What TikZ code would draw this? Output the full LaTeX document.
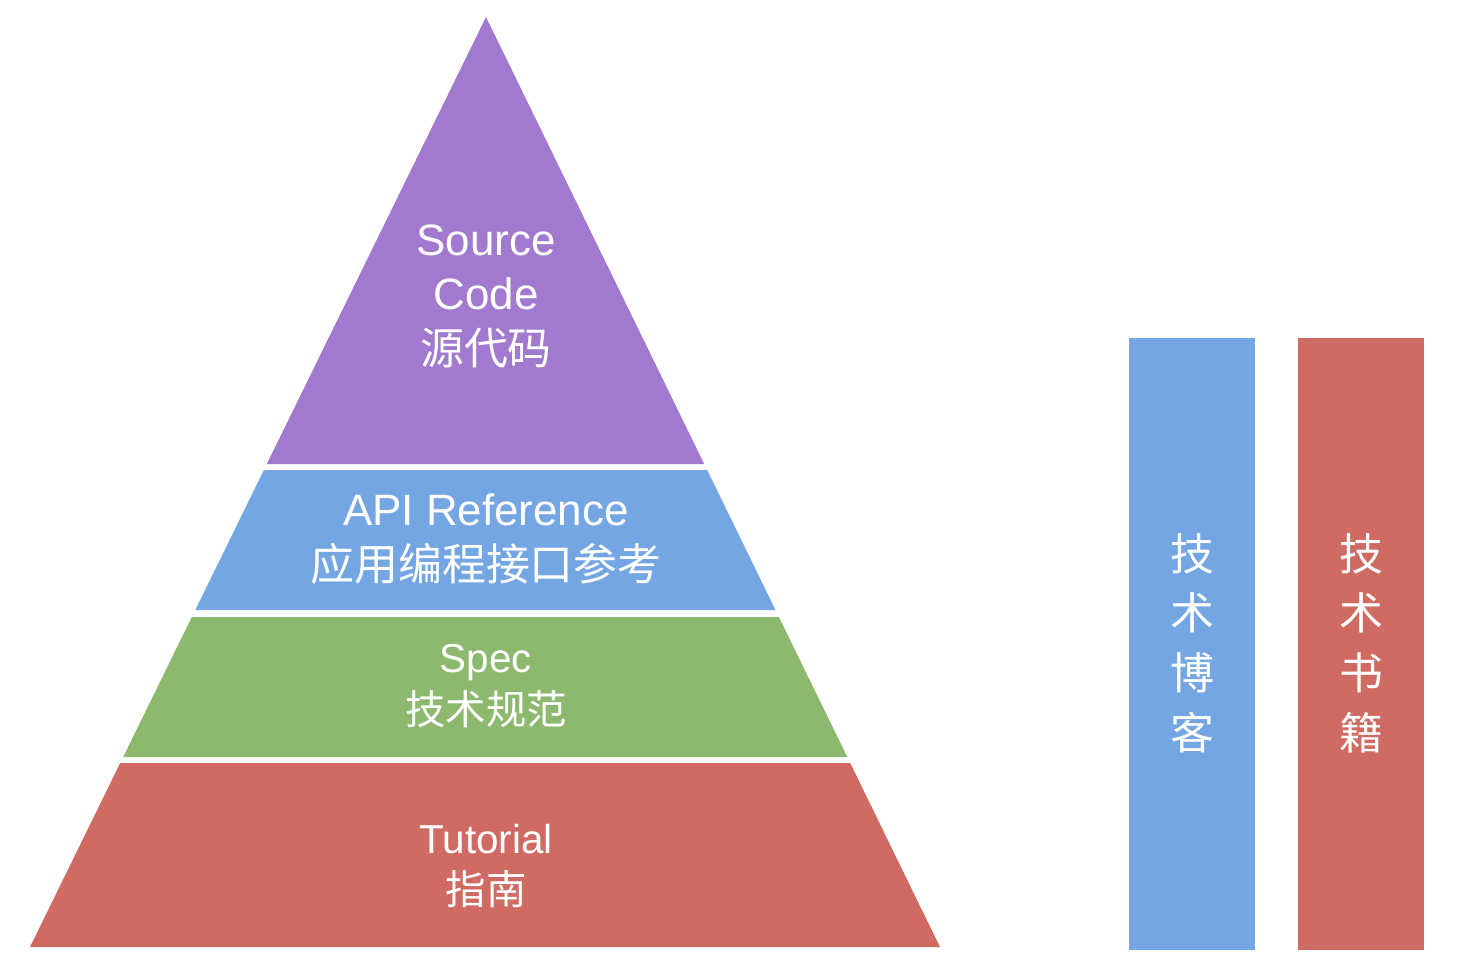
\documentclass[tikz,border=0pt]{standalone}
\usepackage{fontspec}
\setmainfont{Liberation Sans}
\newfontfamily\cjk{Noto Sans CJK SC}
\usepackage{tikz}
\definecolor{srcpurple}{RGB}{161,121,206}
\definecolor{apiblue}{RGB}{116,166,228}
\definecolor{specgreen}{RGB}{141,185,111}
\definecolor{tutred}{RGB}{207,107,99}
\tikzset{
  layertext/.style={text=white, align=center, font=\fontsize{25}{31}\selectfont},
  lowtext/.style={text=white, align=center, font=\fontsize{23}{29.5}\selectfont},
  bartext/.style={text=white, align=center, font=\cjk\fontsize{25}{34}\selectfont}
}

\begin{document}
\begin{tikzpicture}[x=0.02cm, y=-0.02cm]
    \useasboundingbox (0,0) rectangle (1482,974);
    \fill[srcpurple] (486,17) -- (704.2,464) -- (266.8,464) -- cycle;
    \fill[apiblue] (263.9,470) -- (707.2,470) -- (775.5,610) -- (195.3,610) -- cycle;
    \fill[specgreen] (191.8,617) -- (778.9,617) -- (847.3,757) -- (123.2,757) -- cycle;
    \fill[tutred] (120.2,763) -- (850.2,763) -- (940,947) -- (30,947) -- cycle;
    \fill[apiblue] (1129,338) rectangle (1255,950);
    \fill[tutred] (1298,338) rectangle (1424,950);
    \node[layertext] (source) at (486,296) {Source\\Code\\{\cjk 源代码}};
    \node[layertext] (api) at (486,539) {API Reference\\{\cjk 应用编程接口参考}};
    \node[lowtext] (spec) at (486,686) {Spec\\{\cjk 技术规范}};
    \node[lowtext] (tutorial) at (486,866) {Tutorial\\{\cjk 指南}};
    \node[bartext] (blog) at (1192,643) {技\\术\\博\\客};
    \node[bartext] (book) at (1361,643) {技\\术\\书\\籍};
\end{tikzpicture}
\end{document}
